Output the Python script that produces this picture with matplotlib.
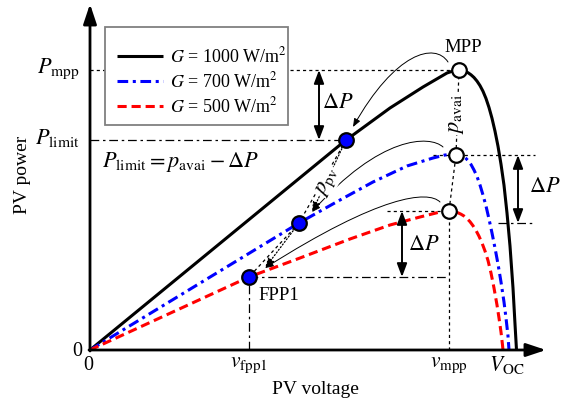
import matplotlib
matplotlib.use("Agg")
import matplotlib.pyplot as plt
from matplotlib.path import Path
from matplotlib.patches import FancyArrowPatch, Rectangle

plt.rcParams['font.family'] = 'serif'
plt.rcParams['font.serif'] = ['Liberation Serif', 'DejaVu Serif']
plt.rcParams['mathtext.fontset'] = 'stix'

# ---- data (schematic units: voltage, power) ----
black_v = [0, 256, 263, 300, 333, 357, 363, 369, 372, 375, 378, 381, 384, 387, 390, 393, 396,
           399, 402, 405, 408, 411, 414, 417, 420, 423, 425, 426.5]
black_p = [0, 210, 215, 242, 263, 277, 279, 280, 279.7, 278.8, 277.3, 275.2, 272.5, 268.9, 264.4,
           258.7, 251.5, 242.5, 231.7, 218.8, 203.8, 185.8, 164.8, 137, 104, 62, 26, 0]

blue_v = [0, 209, 250, 283, 317, 343, 355, 366, 369, 372, 375, 378, 381, 384, 387, 390, 393,
          396, 399, 402, 405, 408, 411, 414, 416, 418, 419]
blue_p = [0, 127, 150, 168, 184, 192, 195, 196, 195.6, 194.5, 192.5, 189.5, 185.5, 180, 173.5,
          165, 155, 144, 131, 117, 102, 86, 68, 48, 32, 14, 0]

red_v = [0, 159, 210, 260, 300, 330, 350, 359, 362, 365, 368, 371, 374, 377, 380, 383, 386,
         389, 392, 395, 398, 401, 404, 407, 409, 411, 412.5, 413]
red_p = [0, 73, 92, 111, 125, 133, 138, 139, 138.8, 138.2, 137.2, 135.8, 134, 131.5, 128.3,
         124.3, 119.5, 113.8, 107, 99, 89.5, 77, 62, 45, 32, 18, 5, 0]

labels = [r'$G$ = 1000 W/m$^2$', r'$G$ = 700 W/m$^2$', r'$G$ = 500 W/m$^2$']

mpp_v = [369, 366, 359]      # MPP of each curve
mpp_p = [280, 195, 139]
op_v = [256, 209, 159]       # operating points (P = p_avai - dP)
op_p = [210, 127, 73]

p_mpp = 280
p_limit = 210
v_fpp1 = 159
v_mpp = 359
v_oc = 417

fig = plt.figure(figsize=(5.69, 4.05), dpi=100)
ax = fig.add_axes([0, 0, 1, 1])
ax.set_xlim(-90, 479)
ax.set_ylim(-55, 350)
ax.axis('off')

# curves
lb, = ax.plot(black_v, black_p, color='k', lw=2.2, solid_capstyle='butt', zorder=3)
lbl, = ax.plot(blue_v, blue_p, color='#0000ff', lw=2.2, linestyle=(0, (3.5, 1.5, 1, 1.5)), zorder=3)
lr, = ax.plot(red_v, red_p, color='#ff0000', lw=2.2, linestyle=(0, (3, 1.6)), zorder=3)

# axes with arrows
arr = dict(arrowstyle='-|>,head_length=1.2,head_width=0.4', lw=2, color='k', shrinkA=0, shrinkB=0)
ax.annotate('', xy=(456, 0), xytext=(-1, 0), arrowprops=arr, zorder=4)
ax.annotate('', xy=(0, 346), xytext=(0, -1), arrowprops=arr, zorder=4)

dot = (0, (2.5, 2.5))
dashdot = (0, (7, 3, 2, 3))
thin = 0.9

# reference lines
ax.plot([0, mpp_v[0]], [p_mpp, p_mpp], color='k', lw=thin, ls=dot)
ax.plot([0, op_v[0]], [p_limit, p_limit], color='k', lw=thin, ls=dashdot)
ax.plot([343, 445], [mpp_p[1], mpp_p[1]], color='k', lw=thin, ls=dot)
ax.plot([408, 443], [op_p[1], op_p[1]], color='k', lw=thin, ls=dashdot)
ax.plot([297, mpp_v[2]], [mpp_p[2], mpp_p[2]], color='k', lw=thin, ls=dot)
ax.plot([op_v[2], mpp_v[2]], [op_p[2], op_p[2]], color='k', lw=thin, ls=dashdot)
ax.plot([v_fpp1, v_fpp1], [0, op_p[2]], color='k', lw=thin, ls=dashdot)
ax.plot([v_mpp, v_mpp], [0, mpp_p[2]], color='k', lw=thin, ls=dot)
ax.plot(mpp_v, mpp_p, color='k', lw=thin, ls=dot)

# dotted connections between operating points
ax.plot(op_v[:2], op_p[:2], color='k', lw=thin, ls=dot)
ax.plot(op_v[1:], op_p[1:], color='k', lw=thin, ls=dot)
darr = dict(arrowstyle='-|>,head_length=0.6,head_width=0.22', lw=thin, color='k',
            linestyle=':', shrinkA=7, shrinkB=0)
ax.annotate('', xy=(222, 138), xytext=(op_v[0], op_p[0]), arrowprops=darr)
ax.annotate('', xy=(175, 82), xytext=(op_v[1], op_p[1]), arrowprops=darr)

# curved thin arrows from MPPs to new operating points
def curved(p0, c1, c2, p1):
    path = Path([p0, c1, c2, p1], [Path.MOVETO, Path.CURVE4, Path.CURVE4, Path.CURVE4])
    a = FancyArrowPatch(path=path, arrowstyle='-|>,head_length=5,head_width=2',
                        lw=0.7, color='k', transform=ax.transData)
    ax.add_patch(a)

curved((358, 288), (345, 308), (305, 298), (263, 223))
curved((353, 203), (340, 215), (290, 215), (222, 138))
curved((350, 148), (338, 160), (290, 155), (175, 82))

# delta P arrows
dp = dict(arrowstyle='<|-|>,head_length=0.8,head_width=0.3', lw=1.4, color='k', shrinkA=0, shrinkB=0)
ax.annotate('', xy=(229, p_mpp), xytext=(229, p_limit), arrowprops=dp)
ax.annotate('', xy=(428, mpp_p[1]), xytext=(428, op_p[1]), arrowprops=dp)
ax.annotate('', xy=(312, mpp_p[2]), xytext=(312, op_p[2]), arrowprops=dp)
fs = 13.5
ms = 16
ax.text(248, 246, r'$\Delta P$', fontsize=ms, ha='center', va='center')
ax.text(455, 162, r'$\Delta P$', fontsize=ms, ha='center', va='center')
ax.text(334, 105, r'$\Delta P$', fontsize=ms, ha='center', va='center')

# markers
ax.plot(mpp_v, mpp_p, 'o', ms=10.5, mfc='white', mec='k', mew=1.6, zorder=5)
ax.plot(op_v, op_p, 'o', ms=10.5, mfc='#0000ff', mec='k', mew=1.6, zorder=5)

wb = dict(facecolor='white', edgecolor='none', pad=0.5)
# texts
ax.text(373, 302, 'MPP', fontsize=fs, ha='center', va='center')
ax.text(168, 55, 'FPP1', fontsize=fs, ha='left', va='center')
ax.text(12, 188, r'$P_{\mathrm{limit}} = p_{\mathrm{avai}} - \Delta P$', fontsize=ms, ha='left', va='center')
ax.text(238, 168, r'$p_{\mathrm{pv}}$', fontsize=ms, ha='center', va='center', rotation=62, bbox=wb, zorder=4)
ax.text(367, 236, r'$p_{\mathrm{avai}}$', fontsize=ms, ha='center', va='center', rotation=90, bbox=wb, zorder=4)
ax.text(-10, 281, r'$P_{\mathrm{mpp}}$', fontsize=ms, ha='right', va='center')
ax.text(-10, 212, r'$P_{\mathrm{limit}}$', fontsize=ms, ha='right', va='center')
ax.text(-8, -2, '0', fontsize=fs + 1, ha='right', va='center')
ax.text(-2, -16, '0', fontsize=fs + 1, ha='center', va='center')
ax.text(v_fpp1, -15, r'$v_{\mathrm{fpp1}}$', fontsize=15.5, ha='center', va='center')
ax.text(v_mpp, -15, r'$v_{\mathrm{mpp}}$', fontsize=15.5, ha='center', va='center')
ax.text(v_oc, -15, r'$V_{\mathrm{OC}}$', fontsize=15.5, ha='center', va='center')
ax.text(225, -40, 'PV voltage', fontsize=14, ha='center', va='center')
ax.text(-68, 175, 'PV power', fontsize=14, ha='center', va='center', rotation=90)

# legend (frame drawn separately to match box)
leg = ax.legend([lb, lbl, lr], labels, loc='upper left', bbox_to_anchor=(27, 304),
                bbox_transform=ax.transData, borderaxespad=0, fontsize=13,
                handlelength=2.55, handletextpad=0.4, labelspacing=0.28,
                frameon=False, borderpad=0)
ax.add_patch(Rectangle((15, 225), 183, 98, facecolor='white', edgecolor='#808080',
                       lw=1.3, zorder=3.5))
leg.set_zorder(6)

fig.savefig('out.png', dpi=100)
